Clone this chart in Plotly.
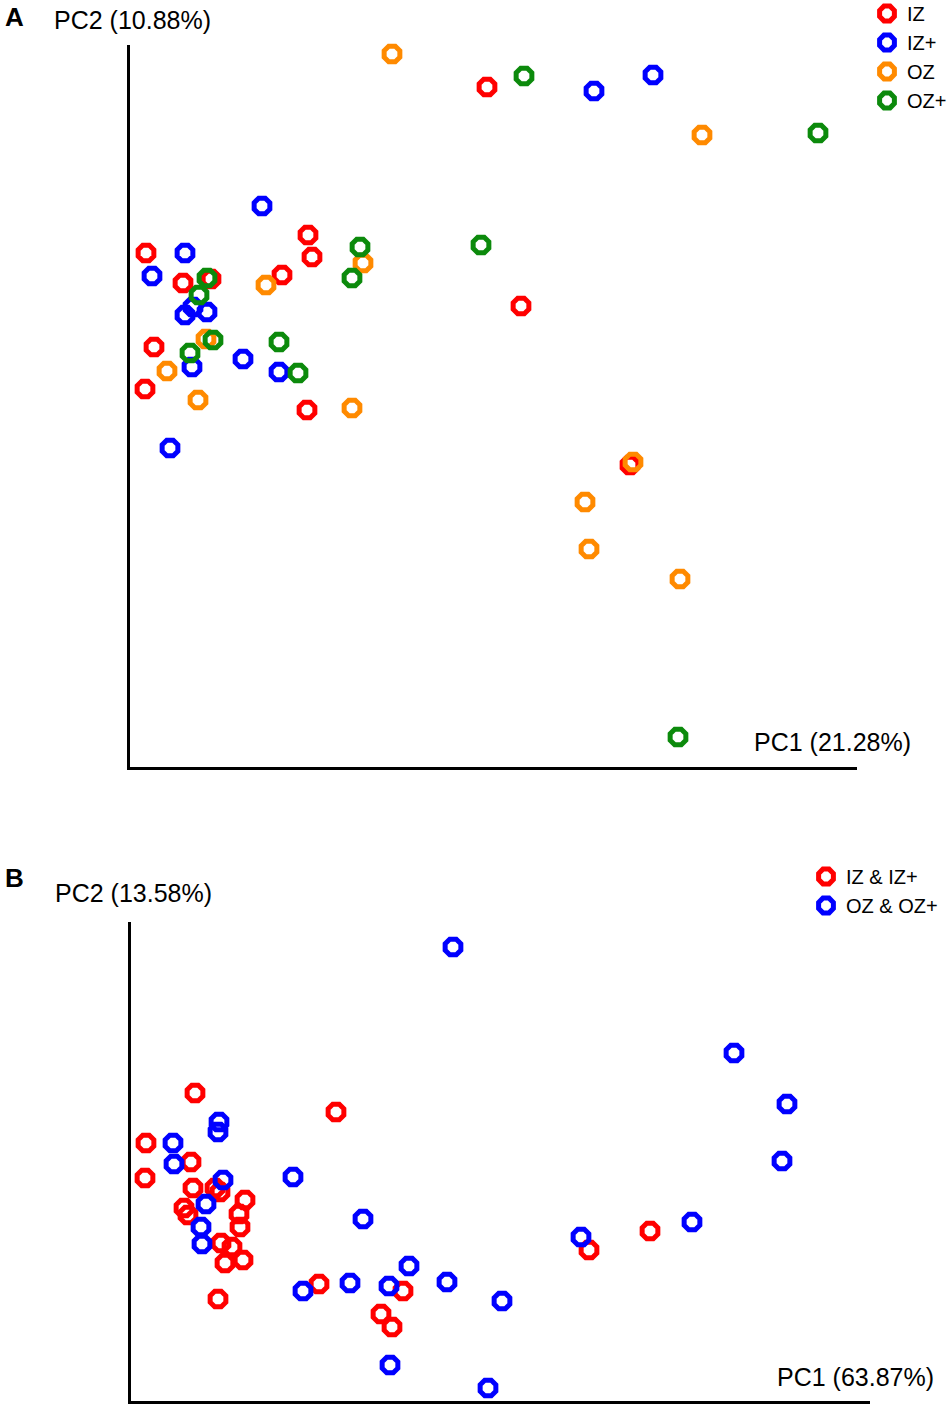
import plotly.graph_objects as go

# ---- Panel A: PCoA scores (arbitrary units) ----
iz_x = [357, 178, 182, 16, 53, 81, 152, 24, 15, 177, 391, 500]
iz_y = [680, 532, 510, 514, 484, 488, 492, 420, 378, 357, 461, 302]

izp_x = [464, 523, 132, 55, 22, 63, 55, 77, 62, 113, 149, 40]
izp_y = [676, 692, 561, 514, 491, 460, 452, 455, 400, 408, 395, 319]

oz_x = [262, 572, 233, 136, 76, 37, 68, 222, 503, 455, 459, 550]
oz_y = [713, 632, 504, 482, 428, 396, 367, 359, 305, 265, 218, 188]

ozp_x = [394, 688, 230, 222, 77, 69, 83, 60, 149, 168, 351, 548]
ozp_y = [691, 634, 520, 489, 489, 472, 427, 414, 425, 394, 522, 30]

# ---- Panel B ----
inner_x = [64, 15, 60, 14, 62, 84, 89, 114, 53, 57, 108, 109, 90, 101, 94, 112,
           87, 205, 188, 272, 250, 261, 519, 458]
inner_y = [308, 258, 239, 223, 213, 213, 209, 201, 193, 186, 187, 174, 158, 154, 138, 141,
           102, 289, 117, 110, 87, 74, 170, 151]

outer_x = [88, 87, 42, 43, 92, 162, 75, 70, 71, 172, 322, 603, 656, 651, 561, 450,
           232, 278, 219, 258, 316, 371, 259, 357]
outer_y = [279, 269, 258, 237, 221, 224, 197, 174, 157, 110, 454, 348, 297, 240, 179, 164,
           182, 135, 118, 115, 119, 100, 36, 13]

FONT = 'Liberation Sans, Arial, sans-serif'
W, H = 950, 1406


def px_x(p):
    return p / W


def px_y(p):
    return 1 - p / H


def ring(x, y, name, color, xa, ya, legend):
    return go.Scatter(x=x, y=y, mode='markers', name=name, xaxis=xa, yaxis=ya,
                      legend=legend, cliponaxis=False, hoverinfo='skip',
                      marker=dict(symbol='octagon-open', size=17, color=color,
                                  line=dict(width=5, color=color)))


fig = go.Figure()
fig.add_trace(ring(iz_x, iz_y, 'IZ', '#ff0000', 'x', 'y', 'legend'))
fig.add_trace(ring(izp_x, izp_y, 'IZ+', '#0000ff', 'x', 'y', 'legend'))
fig.add_trace(ring(oz_x, oz_y, 'OZ', '#ff8a00', 'x', 'y', 'legend'))
fig.add_trace(ring(ozp_x, ozp_y, 'OZ+', '#0c8a0c', 'x', 'y', 'legend'))
fig.add_trace(ring(inner_x, inner_y, 'IZ & IZ+', '#ff0000', 'x2', 'y2', 'legend2'))
fig.add_trace(ring(outer_x, outer_y, 'OZ & OZ+', '#0000ff', 'x2', 'y2', 'legend2'))

axis_style = dict(showline=True, linecolor='black', linewidth=2.5, showgrid=False,
                  zeroline=False, showticklabels=False, ticks='')

fig.update_layout(
    width=W, height=H,
    # legends hang over the edge; don't let them shrink the plot area
    margin=dict(l=0, r=0, t=0, b=0, autoexpand=False),
    paper_bgcolor='white', plot_bgcolor='white',
    hovermode=False,
    font=dict(family=FONT, color='black'),
    xaxis=dict(domain=[px_x(130), px_x(857)], range=[0, 727], anchor='y', **axis_style),
    yaxis=dict(domain=[px_y(767), px_y(45)], range=[0, 722], anchor='x', **axis_style),
    xaxis2=dict(domain=[px_x(131), px_x(870)], range=[0, 739], anchor='y2', **axis_style),
    yaxis2=dict(domain=[px_y(1401), px_y(922)], range=[0, 479], anchor='x2', **axis_style),
    legend=dict(x=px_x(867), y=px_y(-6), xanchor='left', yanchor='top',
                font=dict(size=20), itemwidth=30, bgcolor='rgba(0,0,0,0)'),
    legend2=dict(x=px_x(806), y=px_y(857), xanchor='left', yanchor='top',
                 font=dict(size=20), itemwidth=30, bgcolor='rgba(0,0,0,0)'),
)

labels = [
    ('<b>A</b>', 3, 17, 26),
    ('PC2 (10.88%)', 52, 20, 25),
    ('PC1 (21.28%)', 752, 742, 25),
    ('<b>B</b>', 3, 878, 26),
    ('PC2 (13.58%)', 53, 893, 25),
    ('PC1 (63.87%)', 775, 1377, 25),
]
for text, lx, ly, size in labels:
    fig.add_annotation(text=text, x=px_x(lx), y=px_y(ly), xref='paper', yref='paper',
                       xanchor='left', yanchor='middle', showarrow=False,
                       font=dict(size=size, family=FONT, color='black'))

# drop the default body margin and any scrollbars so the figure fills the window exactly
page_fix = ("document.body.style.margin='0';"
            "document.body.style.overflow='hidden';"
            "document.documentElement.style.overflow='hidden';")
fig.write_html('out.html', post_script=page_fix, config={'displayModeBar': False})
